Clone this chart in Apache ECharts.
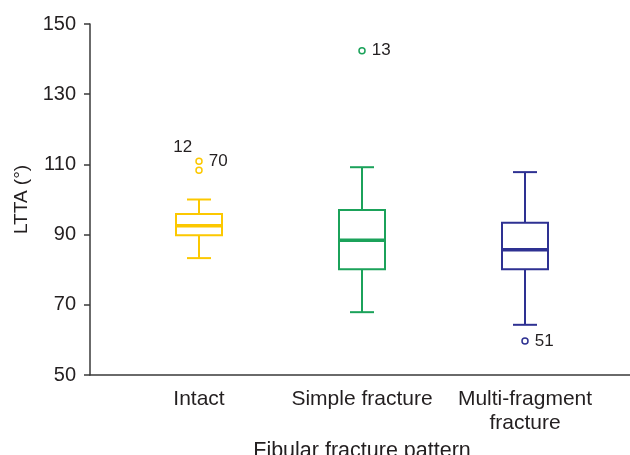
<!DOCTYPE html>
<html>
<head>
<meta charset="utf-8">
<script src="https://cdn.jsdelivr.net/npm/echarts@6/dist/echarts.min.js"></script>
<style>
  html, body { margin: 0; padding: 0; background: #fff; }
  #chart { width: 630px; height: 455px; }
</style>
</head>
<body>
<div id="chart"></div>
<script>
// groups and five-number summaries
const groups = ['Intact', 'Simple fracture', 'Multi-fragment\nfracture']
const mins = [83.3, 67.9, 64.3]
const q1s = [89.8, 80.1, 80.1]
const medians = [92.5, 88.4, 85.7]
const q3s = [95.9, 97.0, 93.4]
const maxs = [100, 109.2, 107.8]

// outliers: group index, value, case id
const outlierGroup = [0, 0, 1, 2]
const outlierValues = [110.9, 108.3, 142.4, 59.7]
const outlierIds = ['70', '12', '13', '51']

const yTicks = [50, 70, 90, 110, 130, 150]

const colors = ['#FCC800', '#1BA25A', '#2E3192']
const FONT = "'Liberation Sans', Arial, sans-serif"
const TEXT = '#231f20'
const AXIS = '#3a3a3a'

// where each outlier label sits relative to its point
const labelPlacement = [
  { position: 'right', distance: 6 },
  { position: 'left', distance: 3, offset: [0, -23] },
  { position: 'right', distance: 6 },
  { position: 'right', distance: 6 },
]

const chart = echarts.init(document.getElementById('chart'))

const boxData = groups.map((g, i) => [i, mins[i], q1s[i], medians[i], q3s[i], maxs[i]])

const outlierItems = outlierValues.map((v, k) => ({
  value: [outlierGroup[k], v],
  itemStyle: { color: '#fff', borderColor: colors[outlierGroup[k]], borderWidth: 1.5, opacity: 1 },
  label: Object.assign(
    { show: true, formatter: outlierIds[k], color: TEXT, fontSize: 17 },
    labelPlacement[k]
  ),
}))

function renderBox(params, api) {
  const i = api.value(0)
  const color = colors[i]
  const cx = api.coord([i, api.value(3)])[0]
  const y = (k) => api.coord([i, api.value(k)])[1]
  const yMin = y(1), yQ1 = y(2), yMed = y(3), yQ3 = y(4), yMax = y(5)
  const half = 23
  const cap = 12
  const line = (x1, y1, x2, y2, w) => ({
    type: 'line',
    shape: { x1, y1, x2, y2 },
    style: { stroke: color, lineWidth: w },
  })
  return {
    type: 'group',
    children: [
      line(cx, yMax, cx, yQ3, 2),
      line(cx, yQ1, cx, yMin, 2),
      line(cx - cap, yMax, cx + cap, yMax, 2),
      line(cx - cap, yMin, cx + cap, yMin, 2),
      {
        type: 'rect',
        shape: { x: cx - half, y: yQ3, width: half * 2, height: yQ1 - yQ3 },
        style: { fill: 'none', stroke: color, lineWidth: 2 },
      },
      line(cx - half, yMed, cx + half, yMed, 3.5),
    ],
  }
}

const axisLineStyle = { color: AXIS, width: 1.5 }

const option = {
  animation: false,
  textStyle: { fontFamily: FONT },
  grid: [
    // frame: y axis and full-width x line
    { left: 90, right: 0, top: 24, bottom: 80, outerBoundsMode: 'none' },
    // boxes, category ticks and labels
    { left: 117.5, right: 23.5, top: 24, bottom: 80, outerBoundsMode: 'none' },
  ],
  xAxis: [
    {
      gridIndex: 0,
      type: 'category',
      data: [''],
      boundaryGap: true,
      axisLine: { onZero: false, lineStyle: axisLineStyle },
      axisTick: { length: 7, lineStyle: axisLineStyle },
      axisLabel: { show: false },
    },
    {
      gridIndex: 1,
      type: 'category',
      data: groups,
      axisLine: { show: false, onZero: false },
      axisTick: { alignWithLabel: true, length: 7, lineStyle: axisLineStyle },
      axisLabel: { color: TEXT, fontSize: 21, margin: 12, lineHeight: 24, interval: 0 },
      name: 'Fibular fracture pattern',
      nameLocation: 'middle',
      nameGap: 55,
      nameTextStyle: { color: TEXT, fontSize: 21.5 },
    },
  ],
  yAxis: [
    {
      gridIndex: 0,
      type: 'value',
      min: yTicks[0],
      max: yTicks[yTicks.length - 1],
      interval: yTicks[1] - yTicks[0],
      axisLine: { show: true, lineStyle: axisLineStyle },
      axisTick: { show: true, length: 6, lineStyle: axisLineStyle },
      axisLabel: { color: TEXT, fontSize: 20, margin: 14 },
      splitLine: { show: false },
      name: 'LTTA (°)',
      nameLocation: 'middle',
      nameGap: 57,
      nameTextStyle: { color: TEXT, fontSize: 19 },
    },
    { gridIndex: 1, type: 'value', min: 50, max: 150, show: false },
  ],
  series: [
    {
      type: 'custom',
      xAxisIndex: 1,
      yAxisIndex: 1,
      data: boxData,
      renderItem: renderBox,
      encode: { x: 0, y: [1, 2, 3, 4, 5] },
    },
    {
      type: 'scatter',
      xAxisIndex: 1,
      yAxisIndex: 1,
      symbol: 'circle',
      symbolSize: 6,
      itemStyle: { opacity: 1 },
      data: outlierItems,
    },
  ],
}

chart.setOption(option)
</script>
</body>
</html>
